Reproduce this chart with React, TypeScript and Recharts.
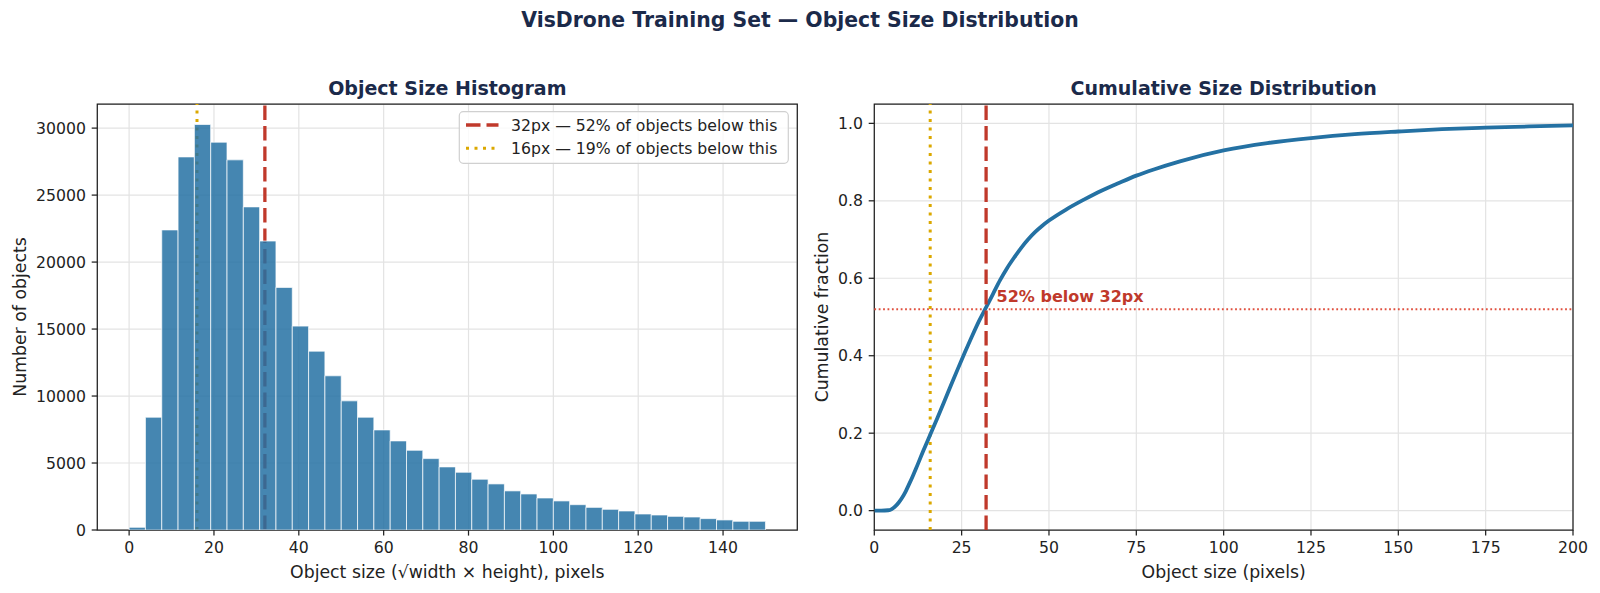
import React from 'react';
import {
  ComposedChart,
  Bar,
  Line,
  XAxis,
  YAxis,
  CartesianGrid,
  ReferenceLine,
  ReferenceArea,
  ReferenceDot,
} from 'recharts';

// histogram: 39 equal bins from 0 to 150 px (sqrt(w*h))
const HIST_MIN = 0;
const HIST_MAX = 150;
const histCounts = [
  200, 8420, 22400, 27850, 30270, 28950, 27630, 24120, 21570, 18110,
  15220, 13350, 11510, 9640, 8420, 7470, 6650, 5950, 5330, 4710,
  4310, 3790, 3440, 2920, 2690, 2390, 2170, 1890, 1690, 1545,
  1420, 1195, 1120, 1020, 970, 850, 750, 650, 650,
];
const histTicksX = [0, 20, 40, 60, 80, 100, 120, 140];
const histTicksY = [0, 5000, 10000, 15000, 20000, 25000, 30000];

// cumulative distribution
const cdfSizes = [
  0, 2, 4, 5, 6, 7, 8, 9, 10, 11, 12, 14, 16, 18, 20, 22, 24, 26, 28, 30,
  32, 34, 36, 38, 40, 42, 44, 46, 48, 50, 55, 60, 65, 70, 75, 80, 87.5,
  100, 112.5, 125, 137.5, 150, 162.5, 175, 187.5, 200,
];
const cdfFractions = [
  0, 0, 0.001, 0.004, 0.011, 0.021, 0.034, 0.05, 0.069, 0.089, 0.11,
  0.154, 0.196, 0.238, 0.281, 0.325, 0.368, 0.41, 0.451, 0.49,
  0.525, 0.56, 0.595, 0.626, 0.653, 0.678, 0.7, 0.719, 0.735, 0.749,
  0.778, 0.803, 0.826, 0.846, 0.865, 0.881, 0.902,
  0.93, 0.949, 0.962, 0.972, 0.979, 0.985, 0.989, 0.992, 0.995,
];
const cdfTicksX = [0, 25, 50, 75, 100, 125, 150, 175, 200];
const cdfTicksY = [0, 0.2, 0.4, 0.6, 0.8, 1.0];

const SMALL_PX = 16;
const MEDIUM_PX = 32;
const SMALL_PCT = 19;
const MEDIUM_PCT = 52;

const binWidth = (HIST_MAX - HIST_MIN) / histCounts.length;
const histData = histCounts.map((count, i) => ({
  center: HIST_MIN + (i + 0.5) * binWidth,
  count,
}));
const cdfData = cdfSizes.map((size, i) => ({ size, fraction: cdfFractions[i] }));

const FONT = '"DejaVu Sans", "Liberation Sans", sans-serif';
const NAVY = '#1B2A4A';
const BLUE = '#2471A3';
const RED = '#C0392B';
const GOLD = '#DBA800';
const INK = '#222222';
const GRID = '#e3e3e3';

const tickStyle = { fontSize: 15.7, fill: INK, fontFamily: FONT };
const tickLine = { stroke: INK, strokeWidth: 1.25 };

const HIST_X_DOMAIN: [number, number] = [-7.5, 157.5];
const HIST_Y_DOMAIN: [number, number] = [0, 31800];
const CDF_X_DOMAIN: [number, number] = [0, 200];
const CDF_Y_DOMAIN: [number, number] = [-0.05, 1.05];

const HistogramChart = () => (
  <ComposedChart
    width={800}
    height={593}
    data={histData}
    margin={{ top: 104, right: 2.7, bottom: 8, left: 37.3 }}
  >
    <CartesianGrid stroke={GRID} strokeWidth={1.2} />
    <XAxis
      dataKey="center"
      type="number"
      domain={HIST_X_DOMAIN}
      ticks={histTicksX}
      allowDataOverflow
      height={55}
      tick={tickStyle}
      tickLine={tickLine}
      tickSize={5.6}
      tickMargin={6.5}
      axisLine={false}
    />
    <YAxis
      type="number"
      domain={HIST_Y_DOMAIN}
      ticks={histTicksY}
      allowDataOverflow
      width={60}
      tick={tickStyle}
      tickLine={tickLine}
      tickSize={5.6}
      tickMargin={5.7}
      axisLine={false}
    />
    <ReferenceLine x={SMALL_PX} stroke={GOLD} strokeWidth={3} strokeDasharray="3 5.5" zIndex={250} />
    <ReferenceLine x={MEDIUM_PX} stroke={RED} strokeWidth={3.3} strokeDasharray="14.5 6" zIndex={250} />
    <Bar
      dataKey="count"
      barSize={16.3}
      fill={BLUE}
      fillOpacity={0.85}
      stroke="#ffffff"
      strokeWidth={0.7}
      isAnimationActive={false}
    />
    <ReferenceArea
      x1={HIST_X_DOMAIN[0]}
      x2={HIST_X_DOMAIN[1]}
      y1={HIST_Y_DOMAIN[0]}
      y2={HIST_Y_DOMAIN[1]}
      fill="none"
      stroke={INK}
      strokeWidth={1.25}
      ifOverflow="visible"
    />
  </ComposedChart>
);

const CdfChart = () => (
  <ComposedChart
    width={800}
    height={593}
    data={cdfData}
    margin={{ top: 104, right: 27, bottom: 8, left: 14.3 }}
  >
    <CartesianGrid stroke={GRID} strokeWidth={1.2} />
    <XAxis
      dataKey="size"
      type="number"
      domain={CDF_X_DOMAIN}
      ticks={cdfTicksX}
      allowDataOverflow
      height={55}
      tick={tickStyle}
      tickLine={tickLine}
      tickSize={5.6}
      tickMargin={6.5}
      axisLine={false}
    />
    <YAxis
      type="number"
      domain={CDF_Y_DOMAIN}
      ticks={cdfTicksY}
      allowDataOverflow
      width={60}
      tick={tickStyle}
      tickLine={tickLine}
      tickSize={5.6}
      tickMargin={5.7}
      axisLine={false}
      tickFormatter={(v: number) => v.toFixed(1)}
    />
    <ReferenceLine y={MEDIUM_PCT / 100} stroke="#E0503F" strokeWidth={1.8} strokeDasharray="1.8 2.6" />
    <ReferenceLine x={SMALL_PX} stroke={GOLD} strokeWidth={3} strokeDasharray="3 5.5" />
    <Line
      type="monotone"
      dataKey="fraction"
      stroke={BLUE}
      strokeWidth={3.8}
      dot={false}
      isAnimationActive={false}
    />
    <ReferenceLine x={MEDIUM_PX} stroke={RED} strokeWidth={3.3} strokeDasharray="14.5 6" />
    <ReferenceDot
      x={35}
      y={0.54}
      r={0}
      fill="none"
      stroke="none"
      label={{
        content: (props: any) => {
          const vb = props.viewBox || {};
          return (
            <text x={vb.x} y={vb.y} fill={RED} fontFamily={FONT} fontSize={16} fontWeight="bold">
              {`${MEDIUM_PCT}% below ${MEDIUM_PX}px`}
            </text>
          );
        },
      }}
    />
    <ReferenceArea
      x1={CDF_X_DOMAIN[0]}
      x2={CDF_X_DOMAIN[1]}
      y1={CDF_Y_DOMAIN[0]}
      y2={CDF_Y_DOMAIN[1]}
      fill="none"
      stroke={INK}
      strokeWidth={1.25}
      ifOverflow="visible"
    />
  </ComposedChart>
);

const Overlay = () => (
  <svg
    width={1600}
    height={593}
    style={{ position: 'absolute', left: 0, top: 0, pointerEvents: 'none' }}
    fontFamily={FONT}
  >
    <text x={800} y={26.7} textAnchor="middle" fontSize={20.4} fontWeight="bold" fill={NAVY}>
      VisDrone Training Set — Object Size Distribution
    </text>
    <text x={447.3} y={94.5} textAnchor="middle" fontSize={19} fontWeight="bold" fill={NAVY}>
      Object Size Histogram
    </text>
    <text x={1223.7} y={94.5} textAnchor="middle" fontSize={19} fontWeight="bold" fill={NAVY}>
      Cumulative Size Distribution
    </text>
    <text x={447.3} y={577.7} textAnchor="middle" fontSize={17.3} fill={INK}>
      Object size (√width × height), pixels
    </text>
    <text x={1223.7} y={577.7} textAnchor="middle" fontSize={17.3} fill={INK}>
      Object size (pixels)
    </text>
    <text x={25.6} y={317} textAnchor="middle" fontSize={17.3} fill={INK} transform="rotate(-90 25.6 317)">
      Number of objects
    </text>
    <text x={828} y={317} textAnchor="middle" fontSize={17.3} fill={INK} transform="rotate(-90 828 317)">
      Cumulative fraction
    </text>
    <g>
      <rect x={459.3} y={111.7} width={329} height={51.6} rx={4} fill="#ffffff" fillOpacity={0.8} stroke="#d0d0d0" strokeWidth={1.2} />
      <line x1={466} x2={498.5} y1={125} y2={125} stroke={RED} strokeWidth={3.3} strokeDasharray="14.5 6" />
      <text x={511} y={130.6} fontSize={15.7} fill={INK}>
        {`${MEDIUM_PX}px — ${MEDIUM_PCT}% of objects below this`}
      </text>
      <line x1={466} x2={498.5} y1={148.3} y2={148.3} stroke={GOLD} strokeWidth={3} strokeDasharray="3 5.5" />
      <text x={511} y={153.9} fontSize={15.7} fill={INK}>
        {`${SMALL_PX}px — ${SMALL_PCT}% of objects below this`}
      </text>
    </g>
  </svg>
);

export default function App() {
  return (
    <div
      style={{
        position: 'absolute',
        left: 0,
        top: 0,
        width: 1600,
        height: 593,
        background: '#ffffff',
        fontFamily: FONT,
      }}
    >
      <div style={{ position: 'absolute', left: 0, top: 0 }}>
        <HistogramChart />
      </div>
      <div style={{ position: 'absolute', left: 800, top: 0 }}>
        <CdfChart />
      </div>
      <Overlay />
    </div>
  );
}
